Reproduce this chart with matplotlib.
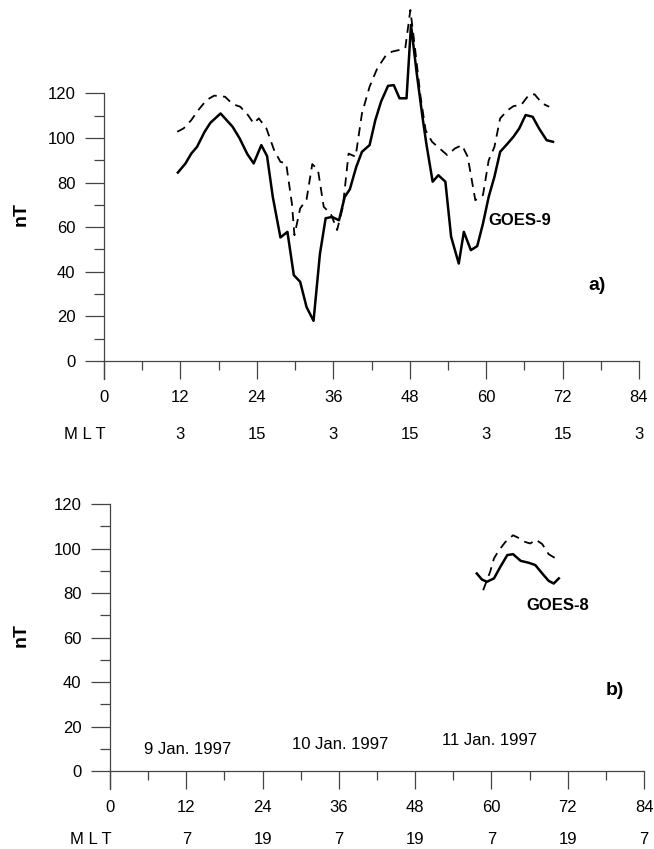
#!/usr/bin/python

"""Two-panel magnetic field plot (GOES-9 / GOES-8), hours since 9 Jan 1997."""

import matplotlib
matplotlib.use('Agg')
import matplotlib.pyplot as plt

# ---- data ----
# panel a) GOES-9
g9_solid_t = [11.6, 12.8, 13.7, 14.6, 15.8, 16.7, 18.3, 19.0, 20.2, 21.3, 22.5, 23.5,
              24.7, 25.6, 26.5, 27.7, 28.8, 29.8, 30.8, 31.8, 32.9, 33.9, 34.8, 35.8,
              36.9, 37.8, 38.6, 39.6, 40.5, 41.7, 42.6, 43.5, 44.6, 45.5, 46.4, 47.5,
              48.2, 49.1, 50.0, 50.6, 51.6, 52.5, 53.6, 54.5, 55.7, 56.5, 57.6, 58.6,
              59.5, 60.4, 61.3, 62.2, 63.4, 64.3, 65.2, 66.2, 67.3, 68.3, 69.5, 70.5]
g9_solid_b = [84.5, 88.6, 93.0, 96.0, 102.8, 106.8, 111.0, 108.8, 105.0, 99.8, 92.8, 88.6,
              96.8, 91.9, 73.6, 55.4, 57.9, 38.5, 35.5, 24.2, 18.0, 48.0, 64.0, 64.6,
              63.1, 73.6, 77.0, 87.0, 93.8, 96.8, 108.0, 116.3, 123.4, 123.7, 117.8, 117.8,
              150.7, 129.0, 109.5, 97.6, 80.4, 83.3, 80.4, 55.7, 43.7, 57.9, 49.7, 51.5,
              61.6, 73.6, 82.6, 93.8, 97.6, 100.6, 104.3, 110.3, 109.5, 104.3, 99.0, 98.3]

g9_dash_t = [11.5, 12.5, 13.7, 14.8, 16.1, 17.3, 19.0, 20.2, 21.4, 22.6, 23.5, 24.3,
             25.5, 26.7, 27.7, 28.6, 29.5, 29.9, 30.8, 31.8, 32.7, 33.6, 34.5, 35.6,
             36.6, 37.5, 38.4, 39.5, 40.5, 41.7, 42.9, 44.3, 45.2, 46.4, 47.3, 48.1,
             48.8, 49.7, 50.5, 51.5, 52.7, 53.9, 55.1, 56.2, 57.1, 58.3, 59.5, 60.4,
             61.3, 62.2, 63.4, 64.3, 65.5, 66.7, 67.6, 68.8, 69.9]
g9_dash_b = [102.8, 104.3, 108.0, 112.5, 117.0, 119.0, 118.5, 115.2, 114.0, 110.3, 106.5, 108.8,
             104.3, 94.6, 89.3, 88.6, 70.6, 56.4, 68.4, 72.4, 88.3, 85.6, 69.1, 66.1,
             58.7, 69.1, 93.0, 91.6, 111.0, 123.0, 131.2, 137.2, 138.7, 139.5, 140.2, 157.4,
             141.0, 118.5, 103.5, 98.3, 95.3, 92.3, 95.3, 96.8, 91.6, 72.1, 74.4, 90.0,
             96.0, 108.8, 112.5, 114.3, 114.8, 119.3, 119.6, 115.5, 114.0]

# panel b) GOES-8
g8_solid_t = [57.7, 58.5, 59.3, 60.4, 61.4, 62.5, 63.4, 64.6, 65.9, 66.9, 68.0, 69.0, 69.8, 70.6]
g8_solid_b = [88.8, 86.1, 85.1, 86.6, 91.8, 97.1, 97.5, 94.5, 93.6, 92.6, 88.8, 85.5, 84.3, 86.6]

g8_dash_t = [58.7, 59.3, 59.8, 60.4, 61.2, 62.2, 63.4, 64.5, 65.3, 66.1, 67.0, 68.0, 69.0, 70.1, 70.6]
g8_dash_b = [81.3, 85.8, 89.6, 95.6, 99.3, 103.0, 106.0, 104.5, 103.0, 102.3, 104.0, 102.0, 97.5, 95.6, 96.6]

hour_ticks = [0, 12, 24, 36, 48, 60, 72, 84]
mlt_a = ['3', '15', '3', '15', '3', '15', '3']
mlt_b = ['7', '19', '7', '19', '7', '19', '7']
nt_ticks = [0, 20, 40, 60, 80, 100, 120]
dates = ['9 Jan. 1997', '10 Jan. 1997', '11 Jan. 1997']
date_pos = [(5.3, 9.7), (28.7, 11.7), (52.2, 13.6)]

FONT = ['Liberation Sans', 'DejaVu Sans']
AXCOL = '#444444'


def style_axes(ax, ylo):
    """Old-style axes: only left and bottom lines, ticks pointing out."""
    ax.set_xlim(0, 84)
    ax.spines['top'].set_visible(False)
    ax.spines['right'].set_visible(False)
    ax.spines['bottom'].set_position(('data', 0))
    ax.spines['bottom'].set_bounds(0, 84)
    ax.spines['left'].set_bounds(ylo, 120)
    for s in ('bottom', 'left'):
        ax.spines[s].set_color(AXCOL)
        ax.spines[s].set_linewidth(0.9)

    ax.set_xticks(hour_ticks)
    ax.set_xticks(range(6, 84, 12), minor=True)
    ax.set_yticks(nt_ticks)
    ax.set_yticks(range(10, 120, 20), minor=True)

    ax.tick_params(axis='x', which='major', direction='out', length=13, width=0.9,
                   color=AXCOL, labelsize=12, pad=8)
    ax.tick_params(axis='x', which='minor', direction='out', length=6.5, width=0.9, color=AXCOL)
    ax.tick_params(axis='y', which='major', direction='out', length=13.5, width=0.9,
                   color=AXCOL, labelsize=12, pad=7)
    ax.tick_params(axis='y', which='minor', direction='out', length=7, width=0.9, color=AXCOL)
    for lab in ax.get_xticklabels() + ax.get_yticklabels():
        lab.set_family(FONT)
    ax.patch.set_visible(False)


def add_mlt_row(ax, labels, y):
    ax.text(-3, y, 'M L T', ha='center', va='center', fontsize=12, family=FONT, clip_on=False)
    for h, lab in zip(hour_ticks[1:], labels):
        ax.text(h, y, lab, ha='center', va='center', fontsize=12, family=FONT, clip_on=False)


def main():
    fig = plt.figure(figsize=(6.54, 8.49), dpi=100)

    # panel a
    ax1 = fig.add_axes([104 / 654, 1 - 378.8 / 849, 535 / 654, 374.6 / 849])
    ax1.set_ylim(-8, 160)
    style_axes(ax1, -8)
    ax1.plot(g9_solid_t, g9_solid_b, color='black', lw=1.8, clip_on=False)
    ax1.plot(g9_dash_t, g9_dash_b, color='black', lw=1.3, dashes=(5, 3.5), clip_on=False)
    ax1.text(60.3, 63, 'GOES-9', fontsize=12, fontweight='bold', family=FONT, va='center')
    ax1.text(76, 34, 'a)', fontsize=14, fontweight='bold', family=FONT, va='center')
    ax1.text(-13, 66, 'nT', fontsize=14, fontweight='bold', family=FONT,
             rotation=90, ha='center', va='center')
    add_mlt_row(ax1, mlt_a, -33)

    # panel b
    ax2 = fig.add_axes([110 / 654, 1 - 788.8 / 849, 534 / 654, 295.8 / 849])
    ax2.set_ylim(-8, 125)
    style_axes(ax2, -8)
    ax2.plot(g8_solid_t, g8_solid_b, color='black', lw=1.8, clip_on=False)
    ax2.plot(g8_dash_t, g8_dash_b, color='black', lw=1.3, dashes=(5, 3.5), clip_on=False)
    ax2.text(65.5, 74.6, 'GOES-8', fontsize=12, fontweight='bold', family=FONT, va='center')
    ax2.text(78, 36, 'b)', fontsize=14, fontweight='bold', family=FONT, va='center')
    ax2.text(-14, 61, 'nT', fontsize=14, fontweight='bold', family=FONT,
             rotation=90, ha='center', va='center')
    for lab, (h, b) in zip(dates, date_pos):
        ax2.text(h, b, lab, fontsize=12, family=FONT, va='center')
    add_mlt_row(ax2, mlt_b, -31)

    fig.savefig('out.png', dpi=100)
    plt.close(fig)


if __name__ == '__main__':
    main()
